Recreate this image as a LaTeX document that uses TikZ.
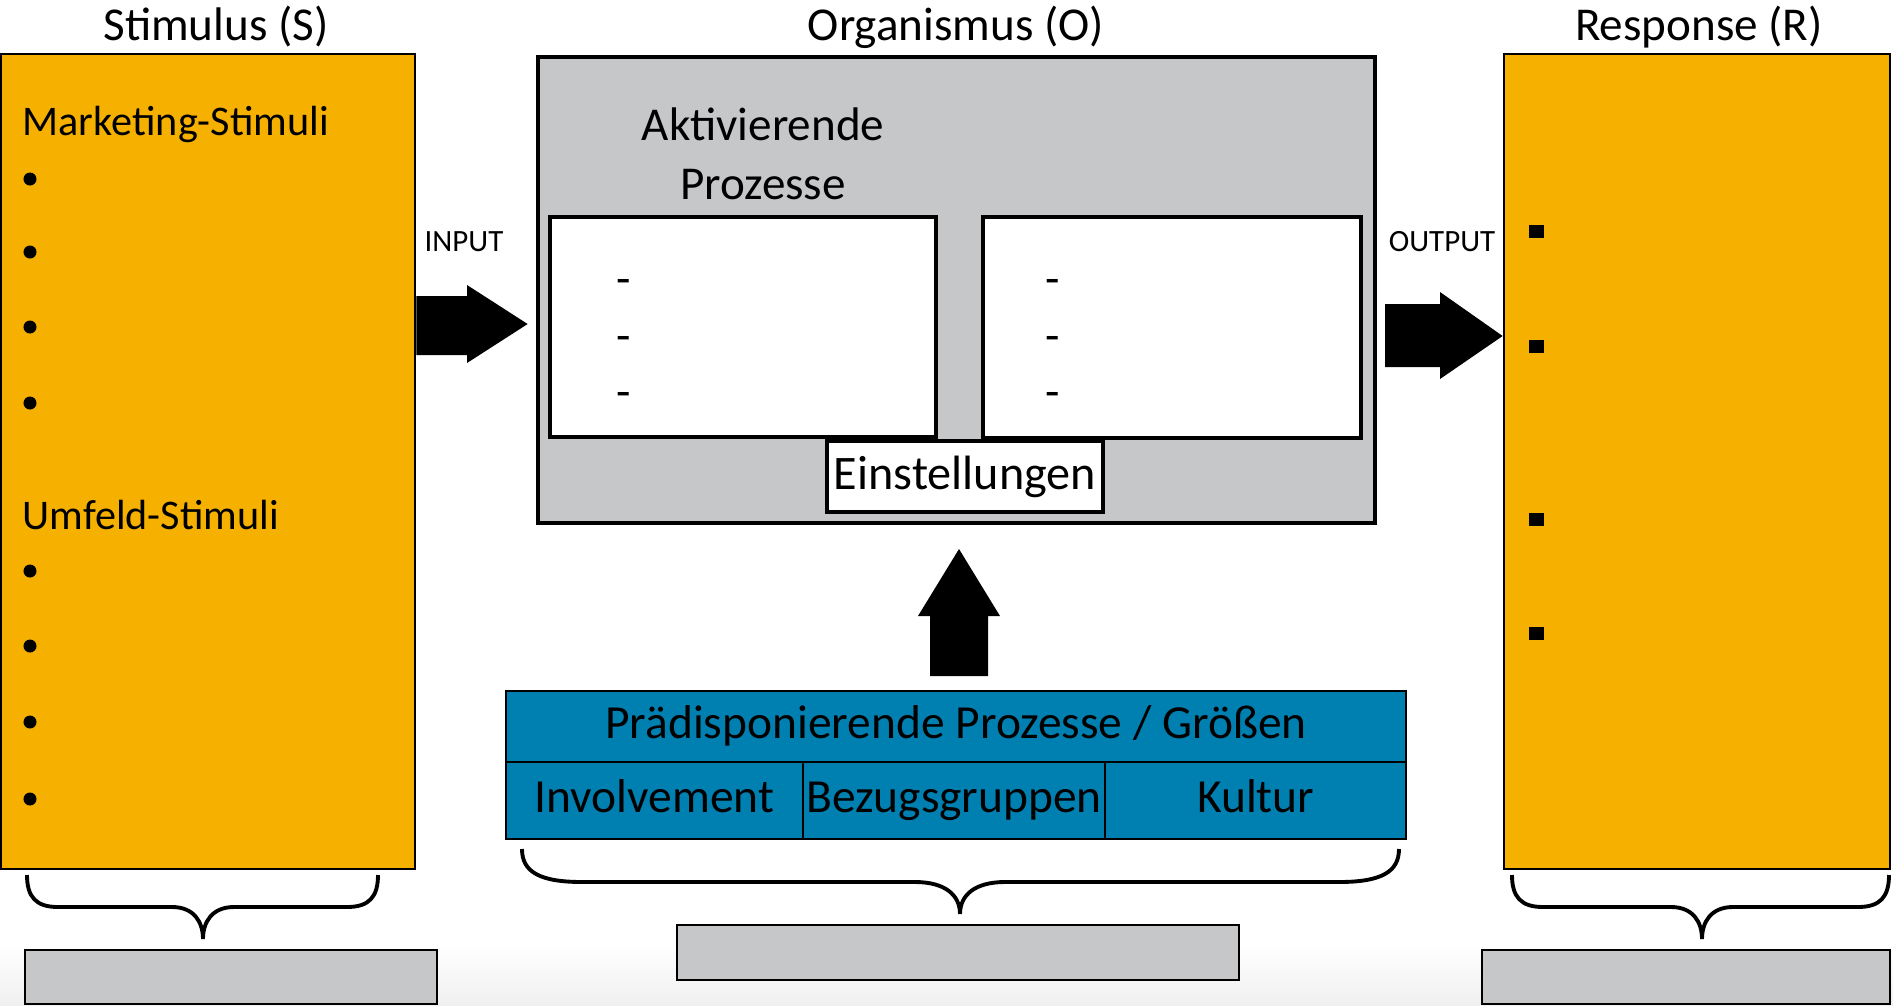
\documentclass[tikz,border=0pt]{standalone}
\usepackage{fontspec}
\setmainfont{Carlito}
\usetikzlibrary{calc,positioning}

\definecolor{sorange}{HTML}{F6B100}
\definecolor{ogray}{HTML}{C6C7C9}
\definecolor{pblue}{HTML}{0080B1}

\tikzset{
  headline/.style={font=\fontsize{13.4}{16}\selectfont, anchor=base, inner sep=0pt},
  itemhead/.style={font=\fontsize{12}{14}\selectfont, anchor=base west, inner sep=0pt},
  sidebox/.style={draw, fill=sorange, line width=0.7pt, minimum width=#1, minimum height=8.15cm, inner sep=0pt},
  whitebox/.style={draw, fill=white, line width=1.1pt, inner sep=0pt},
  bluecell/.style={draw, fill=pblue, line width=0.6pt, inner sep=0pt, outer sep=0pt, text height=0.33cm, text depth=0.1cm, font=\fontsize{13.5}{16}\selectfont},
  graybox/.style={draw, fill=ogray, line width=0.6pt, inner sep=0pt, minimum height=0.54cm},
  bulletdot/.style={circle, fill=black, inner sep=0pt, minimum size=0.13cm},
  bulletsq/.style={rectangle, fill=black, inner sep=0pt, minimum width=0.15cm, minimum height=0.13cm},
  dashitem/.style={font=\fontsize{13.4}{16}\selectfont, inner sep=0pt},
  smalltag/.style={font=\fontsize{8.8}{10}\selectfont, inner sep=0pt},
  curly/.style={line width=1.1pt}
}

\begin{document}
\begin{tikzpicture}[x=0.01cm,y=-0.01cm]
\useasboundingbox (0,0) rectangle (1893,1005);
\shade[top color=white, bottom color=black!6] (0,945) rectangle (1893,1005);

% Stimulus
\node[sidebox=4.14cm] (stim) at (208,461.5) {};
\node[headline] (stimT) at (216,40) {Stimulus (S)};
\node[itemhead] (mstim) at (22,135) {Marketing-Stimuli};
\foreach \y [count=\i] in {179,252,327,403} \node[bulletdot] (m\i) at (30,\y) {};
\node[itemhead] (ustim) at (22,529) {Umfeld-Stimuli};
\foreach \y [count=\i] in {571,646,722,799} \node[bulletdot] (u\i) at (30,\y) {};

% Organismus
\node[draw, fill=ogray, line width=1.2pt, minimum width=8.37cm, minimum height=4.66cm, inner sep=0pt] (org) at (956.5,290) {};
\node[headline] (orgT) at (956,40) {Organismus (O)};
\node[align=center, font=\fontsize{13.4}{16.8}\selectfont, inner sep=0pt] (akt) at (763,154) {Aktivierende\\Prozesse};
\node[whitebox, minimum width=3.86cm, minimum height=2.2cm] (leftin) at (743,327) {};
\node[whitebox, minimum width=3.78cm, minimum height=2.21cm] (rightin) at (1172,327.5) {};
\node[whitebox, minimum width=2.76cm, minimum height=0.71cm, font=\fontsize{13.7}{16}\selectfont] (einst) at (965,476.5) {Einstellungen};
\foreach \y [count=\i] in {287,344,400} {
  \node[dashitem] (dl\i) at (624,\y) {-};
  \node[dashitem] (dr\i) at (1053,\y) {-};
}

% Response
\node[sidebox=3.86cm] (resp) at (1697,461.5) {};
\node[headline] (respT) at (1699,40) {Response (R)};
\foreach \y [count=\i] in {231,346,519,633} \node[bulletsq] (r\i) at (1536,\y) {};

% Input / Output
\node[smalltag] (inT) at (464,242) {INPUT};
\node[smalltag] (outT) at (1442,242) {OUTPUT};
\fill (stim.east |- 0,296) -- (467,296) -- (467,285) -- ($(org.west |- 0,324)+(-8,0)$) -- (467,363) -- (467,355) -- (stim.east |- 0,355) -- cycle;
\fill (1385,304) -- (1440,304) -- (1440,292) -- (resp.west |- 0,336) -- (1440,379) -- (1440,367) -- (1385,367) -- cycle;

% Praedisponierende Prozesse
\node[bluecell, minimum width=9cm, minimum height=0.71cm] (praeT) at (956,726.5) {Prädisponierende Prozesse / Größen};
\node[bluecell, minimum width=2.97cm, minimum height=0.77cm, anchor=north west] (invol) at (praeT.south west) {Involvement};
\node[bluecell, minimum width=3.02cm, minimum height=0.77cm, right=0pt of invol] (bezug) {Bezugsgruppen};
\node[bluecell, minimum width=3.01cm, minimum height=0.77cm, right=0pt of bezug] (kultur) {Kultur};
\coordinate (upTip) at (959,549);
\fill (930,676) -- (930,616) -- (918,616) -- (upTip) -- (1000,616) -- (988,616) -- (988,676) -- cycle;

% braces
\draw[curly] (27,875) .. controls (27,897) and (36,907) .. (58,907) -- (172,907) .. controls (194,907) and (203,922) .. (203,939) .. controls (203,922) and (212,907) .. (234,907) -- (347,907) .. controls (369,907) and (378,897) .. (378,875);
\draw[curly] (522,849) .. controls (522,872) and (540,882) .. (582,882) -- (915,882) .. controls (945,882) and (960,895) .. (960,914) .. controls (960,895) and (975,882) .. (1005,882) -- (1339,882) .. controls (1381,882) and (1399,872) .. (1399,849);
\draw[curly] (1512,875) .. controls (1512,897) and (1521,907) .. (1543,907) -- (1671,907) .. controls (1693,907) and (1702,922) .. (1702,939) .. controls (1702,922) and (1711,907) .. (1733,907) -- (1858,907) .. controls (1880,907) and (1889,897) .. (1889,875);

\node[graybox, minimum width=4.12cm] (sumS) at (231,977) {};
\node[graybox, minimum width=5.62cm, minimum height=0.55cm] (sumP) at (958,952.5) {};
\node[graybox, minimum width=4.08cm] (sumR) at (1686,977) {};

\end{tikzpicture}
\end{document}
